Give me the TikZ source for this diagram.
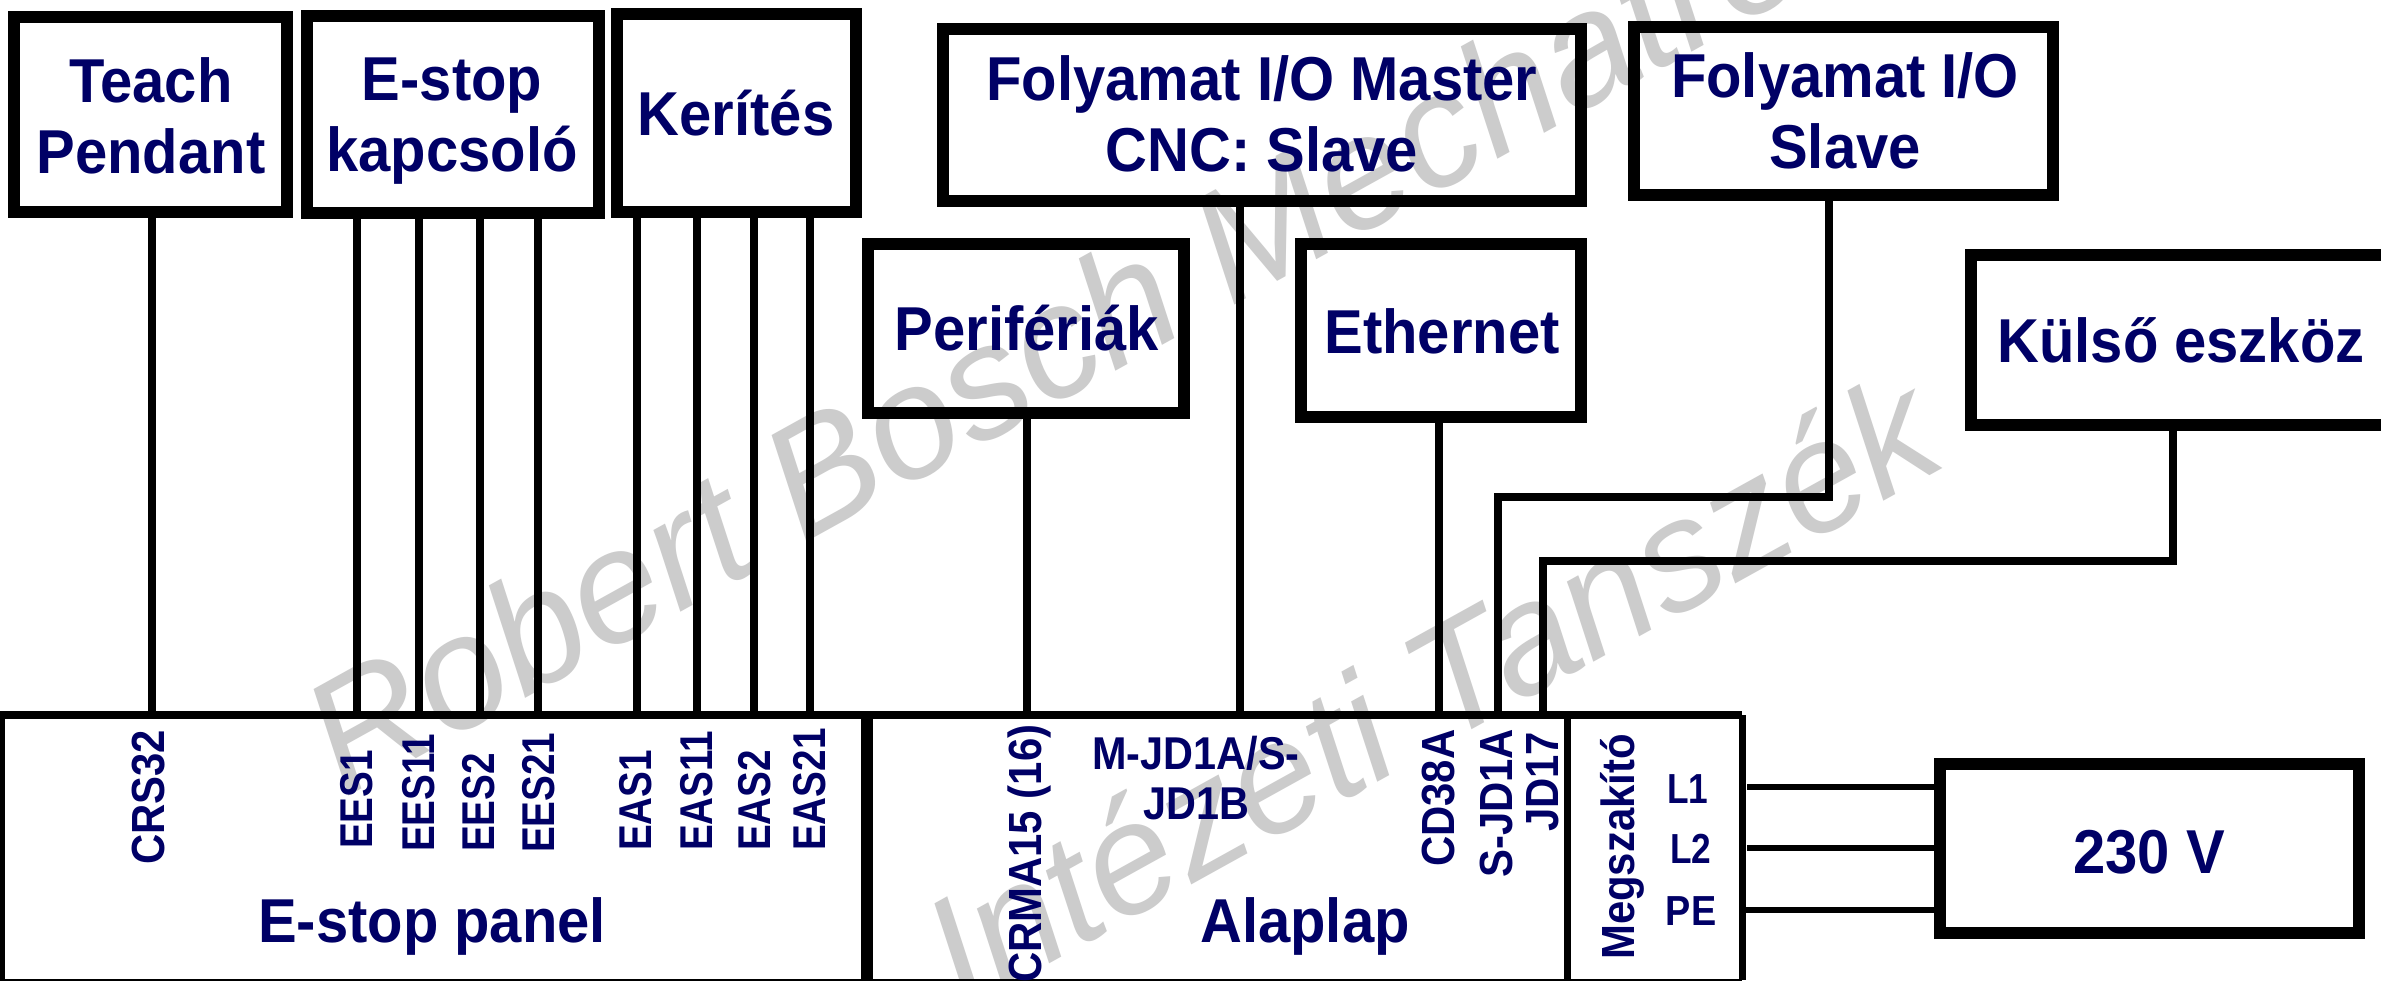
\documentclass[tikz,border=0pt]{standalone}
\usepackage{fontspec}
\setmainfont{Liberation Sans}
\newfontfamily\mainf[FakeStretch=0.935]{Liberation Sans}
\newfontfamily\pf[FakeStretch=0.9]{Liberation Sans}
\newfontfamily\pg[FakeStretch=0.84]{Liberation Sans}
\definecolor{navy}{RGB}{0,0,102}
\definecolor{wm}{RGB}{204,204,204}
\newcommand{\boxnode}[5]{%
  \node[framebox,minimum width={(#4)-(#2)-12},minimum height={(#5)-(#3)-12}] (#1) at ({((#2)+(#4))/2},{((#3)+(#5))/2}) {};}
\tikzset{
  x=1pt,y=-1pt,
  framebox/.style={draw=black,line width=12pt,fill=none,inner sep=0pt,outer sep=auto,rectangle},
  conn/.style={draw=black,line width=7.5pt},
  feed/.style={draw=black,line width=6pt},
  edge/.style={draw=black,line width=7pt},
  bigt/.style={text=navy,font=\fontsize{62}{71}\selectfont\mainf\bfseries,align=center,inner sep=0pt},
  one/.style={bigt,anchor=base},
  portA/.style={text=navy,font=\fontsize{46.5}{50}\selectfont\pf\bfseries,rotate=90,anchor=base west,inner sep=0pt},
  portB/.style={text=navy,font=\fontsize{46}{50}\selectfont\pg\bfseries,rotate=90,anchor=base west,inner sep=0pt},
  water/.style={text=wm,font=\fontsize{#1}{#1}\selectfont\itshape,rotate=29,anchor=base west,inner sep=0pt}
}
\begin{document}
\begin{tikzpicture}
\useasboundingbox (0,0) rectangle (2381,980);
\fill[white] (0,0) rectangle (2381,980);
% watermark
\begin{scope}
\clip (0,0) rectangle (2381,980);
\node[water=160] (wmA) at (344,799) {Robert Bosch Mechatronikai};
\node[water=157] (wmB) at (963,1012) {Intézeti Tanszék};
\end{scope}
% boxes
\boxnode{teachbox}{8}{11}{293}{218}
\boxnode{estopbox}{301}{10}{605}{219}
\boxnode{keribox}{611}{8}{862}{218}
\boxnode{masterbox}{937}{23}{1587}{207}
\boxnode{slavebox}{1628}{21}{2059}{201}
\boxnode{peribox}{862}{238}{1190}{419}
\boxnode{ethbox}{1295}{238}{1587}{423}
\boxnode{kulsobox}{1965}{249}{2410}{431}
\boxnode{vbox}{1934}{758}{2365}{939}
% labels
\node[bigt] (teach) at (151,116) {Teach\\Pendant};
\node[bigt] (estop) at (452,121) {E-stop\\kapcsoló};
\node[one] (keri) at (736,135) {Kerítés};
\node[bigt] (fmaster) at (1262,114) {Folyamat I/O Master\\CNC: Slave};
\node[bigt] (fslave) at (1845,111) {Folyamat I/O\\Slave};
\node[one] (peri) at (1027,350) {Perifériák};
\node[one] (eth) at (1442,353) {Ethernet};
\node[one] (kulso) at (2181,362) {Külső eszköz};
\node[one] (v230) at (2149,873) {230 V};
% bottom panels
\coordinate (tl) at (0,715); \coordinate (tr) at (1742,715);
\coordinate (bl) at (0,980); \coordinate (br) at (1742,980);
\draw[draw=black,line width=8pt] (tl) -- (tr);
\draw[edge] (tr) -- (br);
\draw[draw=black,line width=9pt] (tl) -- (bl);
\draw[draw=black,line width=2pt] (bl) -- (br);
\coordinate (s1t) at (867,715); \coordinate (s1b) at (867,980);
\coordinate (s2t) at (1567.5,715); \coordinate (s2b) at (1567.5,980);
\draw[draw=black,line width=12pt] (s1t) -- (s1b);
\draw[edge] (s2t) -- (s2b);
\node[one] (estoppanel) at (432,942) {E-stop panel};
\node[one] (alap) at (1305,942) {Alaplap};
% ports
\foreach \n/\x/\y/\t in {crs/164/865/CRS32,cd/1454/867/CD38A,sjd/1512/878/S-JD1A,jd/1558/832/JD17,crma/1041/983/CRMA15 (16),meg/1634/960/Megszakító}
  {\node[portA] (\n) at (\x,\y) {\t};}
\foreach \n/\x/\y/\t in {ees1/372/849/EES1,ees11/434/852/EES11,ees2/494/852/EES2,ees21/554/853/EES21,eas1/651/851/EAS1,eas11/712/851/EAS11,eas2/770/851/EAS2,eas21/825/851/EAS21}
  {\node[portB] (\n) at (\x,\y) {\t};}
\node[text=navy,font=\fontsize{46}{50}\selectfont\pf\bfseries,align=center,inner sep=0pt] (mjd) at (1196,778) {M-JD1A/S-\\JD1B};
\node[text=navy,font=\fontsize{42}{46}\selectfont\pg\bfseries,anchor=base,inner sep=0pt] (l1) at (1688,803) {L1};
\node[text=navy,font=\fontsize{42}{46}\selectfont\pg\bfseries,anchor=base,inner sep=0pt] (l2) at (1691,863) {L2};
\node[text=navy,font=\fontsize{42}{46}\selectfont\pf\bfseries,anchor=base,inner sep=0pt] (pe) at (1691,925) {PE};
% connectors
\foreach \n/\x in {crs/152} {\coordinate (p\n) at (\x,712); \draw[conn] (teachbox.south -| p\n) -- (p\n);}
\foreach \n/\x in {ees1/357,ees11/419,ees2/480,ees21/538} {\coordinate (p\n) at (\x,712); \draw[conn] (estopbox.south -| p\n) -- (p\n);}
\foreach \n/\x in {eas1/637,eas11/697,eas2/754,eas21/810} {\coordinate (p\n) at (\x,712); \draw[conn] (keribox.south -| p\n) -- (p\n);}
\coordinate (pcrma) at (1027,712); \draw[conn] (peribox.south -| pcrma) -- (pcrma);
\coordinate (pmjd) at (1240,712); \draw[conn] (masterbox.south -| pmjd) -- (pmjd);
\coordinate (pcd) at (1439,712); \draw[conn] (ethbox.south -| pcd) -- (pcd);
\coordinate (psjd) at (1498,712); \coordinate (sbend) at (1829,497);
\draw[conn] (slavebox.south -| sbend) -- (sbend) -| (psjd);
\coordinate (pjd) at (1543,712); \coordinate (jbend) at (2173,561);
\draw[conn] (kulsobox.south -| jbend) -- (jbend) -| (pjd);
\coordinate (fl1) at (1747,787); \coordinate (fl2) at (1747,848); \coordinate (fpe) at (1745,910);
\draw[feed] (fl1) -- (vbox.west |- fl1);
\draw[feed] (fl2) -- (vbox.west |- fl2);
\draw[feed] (fpe) -- (vbox.west |- fpe);
\end{tikzpicture}
\end{document}
